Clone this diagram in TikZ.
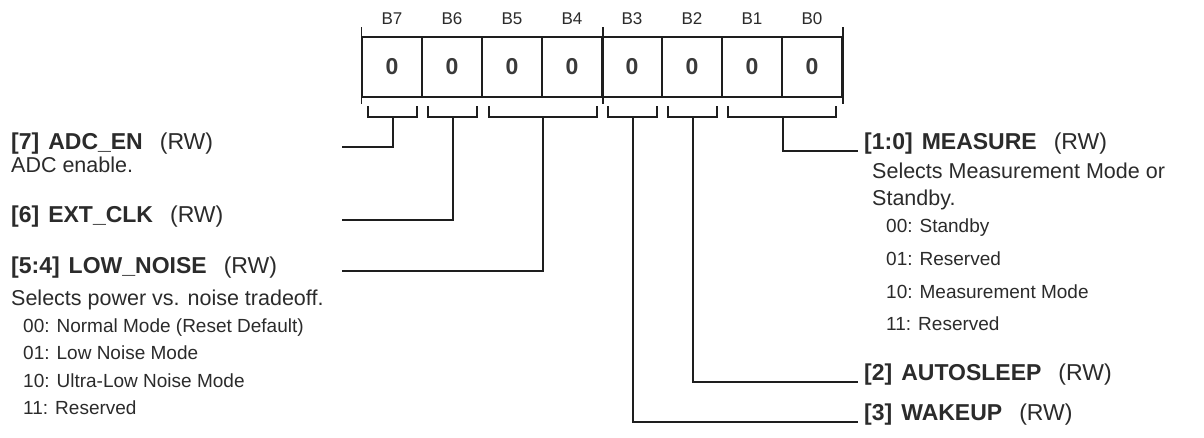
\documentclass[tikz,border=0pt]{standalone}
\usepackage{fontspec}
\setmainfont{Liberation Sans}
\definecolor{txt}{HTML}{2B2B2B}
\definecolor{linec}{HTML}{1E1E1E}
\definecolor{valc}{HTML}{3A3A3A}
\begin{document}
\begin{tikzpicture}[x=1pt,y=-1pt,
  reg/.style={line width=1.5pt, draw=linec},
  conn/.style={line width=1.6pt, draw=linec},
  cell/.style={draw=linec, line width=1.5pt, minimum width=60pt, minimum height=60pt, inner sep=0pt,
    text=valc, font=\bfseries\fontsize{23}{26}\selectfont},
  bitlab/.style={inner sep=0pt, text=txt, font=\fontsize{17}{19}\selectfont},
  head/.style={anchor=base west, inner sep=0pt, text=txt, font=\fontsize{23}{27}\selectfont},
  body/.style={anchor=base west, inner sep=0pt, text=txt, font=\fontsize{21.5}{26}\selectfont},
  item/.style={anchor=base west, inner sep=0pt, text=txt, font=\fontsize{19}{22}\selectfont}]
\useasboundingbox (0,0) rectangle (1204,437);
\fill[white] (0,0) rectangle (1204,437);

% register cells
\foreach \b in {7,...,0}{
  \node[cell] (c\b) at ({392+60*(7-\b)},67) {0};
  \node[bitlab] (l\b) at ({392+60*(7-\b)},19) {B\b};
}
% outer ticks
\draw[reg] (c7.north west) ++(0,-9) -- ++(0,77);
\draw[reg] (c4.north east) ++(0,-9) -- ++(0,77);
\draw[reg] (c0.north east) ++(0,-9) -- ++(0,77);

% brackets
\draw[reg] (368,106) |- (417,117) -- (417,106);
\draw[reg] (428,106) |- (477,117) -- (477,106);
\draw[reg] (489,106) |- (597,117) -- (597,106);
\draw[reg] (608,106) |- (657,117) -- (657,106);
\draw[reg] (668,106) |- (717,117) -- (717,106);
\draw[reg] (728,106) |- (836,117) -- (836,106);
\coordinate (k7) at (393,117);
\coordinate (k6) at (453,117);
\coordinate (k54) at (543,117);
\coordinate (k3) at (633,117);
\coordinate (k2) at (693,117);
\coordinate (k10) at (783,117);

% left descriptions
\node[head] (h7) at (11,149) {\textbf{[7]\hspace{9pt}ADC\_EN}\hspace{17pt}(RW)};
\node[body] (d7) at (11,172) {ADC enable.};
\node[head] (h6) at (11,222) {\textbf{[6]\hspace{9pt}EXT\_CLK}\hspace{17pt}(RW)};
\node[head] (h54) at (11,273) {\textbf{[5:4]\hspace{9pt}LOW\_NOISE}\hspace{17pt}(RW)};
\node[body] (d54) at (11,305) {Selects power vs. noise tradeoff.};
\node[item] (i540) at (23,332) {00: Normal Mode (Reset Default)};
\node[item] (i541) at (23,359.5) {01: Low Noise Mode};
\node[item] (i542) at (23,387) {10: Ultra-Low Noise Mode};
\node[item] (i543) at (23,414.5) {11: Reserved};

% right descriptions
\node[head] (h10) at (864,149) {\textbf{[1:0]\hspace{9pt}MEASURE}\hspace{17pt}(RW)};
\node[body] (d10a) at (872,178) {Selects Measurement Mode or};
\node[body] (d10b) at (872,205) {Standby.};
\node[item] (i100) at (886,232) {00: Standby};
\node[item] (i101) at (886,265) {01: Reserved};
\node[item] (i102) at (886,298) {10: Measurement Mode};
\node[item] (i103) at (886,330) {11: Reserved};
\node[head] (h2) at (864,380) {\textbf{[2]\hspace{9pt}AUTOSLEEP}\hspace{17pt}(RW)};
\node[head] (h3) at (864,420) {\textbf{[3]\hspace{9pt}WAKEUP}\hspace{17pt}(RW)};

% connector ends
\coordinate (e7) at (342,147);
\coordinate (e6) at (342,220);
\coordinate (e54) at (342,271);
\coordinate (e10) at ([shift={(-6pt,-2pt)}]h10.base west);
\coordinate (e2) at ([shift={(-6pt,-2pt)}]h2.base west);
\coordinate (e3) at ([shift={(-6pt,-2pt)}]h3.base west);

\draw[conn] (k7) |- (e7);
\draw[conn] (k6) |- (e6);
\draw[conn] (k54) |- (e54);
\draw[conn] (k10) |- (e10);
\draw[conn] (k2) |- (e2);
\draw[conn] (k3) |- (e3);
\end{tikzpicture}
\end{document}
